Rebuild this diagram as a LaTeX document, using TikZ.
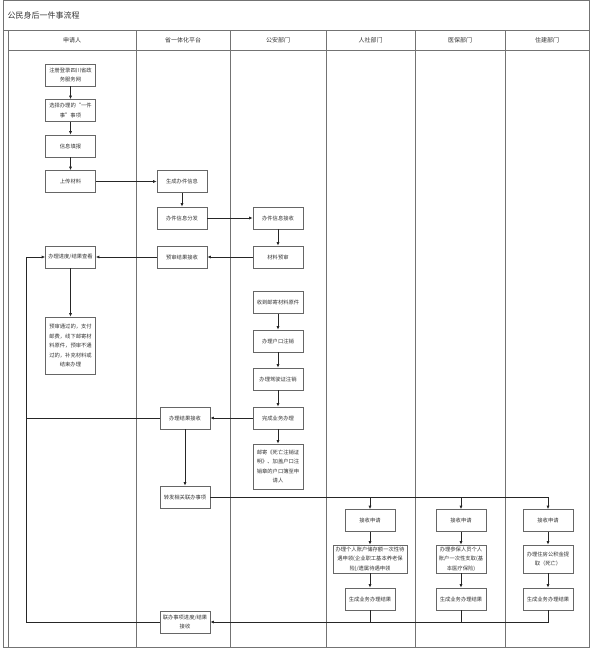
\documentclass[tikz,border=0pt]{standalone}
\usepackage{fontspec}
\setmainfont{Noto Sans CJK SC}
\usetikzlibrary{arrows.meta}

\tikzset{
	box/.style={draw=black!60, line width=0.6pt, fill=white, text=black!80, minimum width=50pt, minimum height=22pt, inner sep=1pt, align=center, font=\fontsize{5.3}{9.5}\selectfont},
	head/.style={text=black!80, font=\fontsize{6}{6}\selectfont},
	flow/.style={draw=black!85, line width=0.7pt},
	lane/.style={draw=black!55, line width=0.7pt}
}

\begin{document}
\begin{tikzpicture}[x=1pt, y=-1pt, >={Latex[length=3.5pt,width=3pt]}]
	\useasboundingbox (0,0) rectangle (590,648);
	\draw[lane] (3,0) rectangle (589,647);
	\draw[lane] (3,30) -- (589,30);
	\draw[lane] (8,30) -- (8,647);
	\draw[lane] (8,50) -- (589,50);
	\foreach \x in {136,230,326,415,505} \draw[lane] (\x,30) -- (\x,647);
	\node[anchor=west, text=black!80, font=\fontsize{8}{8}\selectfont] (title) at (4,15) {公民身后一件事流程};
	\foreach \x/\t/\n in {72/申请人/app, 183/省一体化平台/plat, 278/公安部门/ga, 370.5/人社部门/rs, 460/医保部门/yb, 547/住建部门/zj}
		\node[head] (h\n) at (\x,40) {\t};

	\node[box] (reg) at (70.5,75) {注册登录四川省政\\务服务网};
	\node[box] (pick) at (70.5,110.5) {选择办理的“一件\\事”事项};
	\node[box] (fill) at (70.5,146) {信息填报};
	\node[box] (upload) at (70.5,181.5) {上传材料};
	\node[box] (status) at (70.5,257) {办理进度/结果查看};
	\node[box, minimum height=57pt] (notice) at (70.5,345.5) {预审通过的，支付\\邮费，线下邮寄材\\料原件，预审不通\\过的，补充材料或\\结束办理};

	\node[box] (gen) at (182,181.5) {生成办件信息};
	\node[box] (dist) at (182,218) {办件信息分发};
	\node[box] (prerecv) at (182,257) {预审结果接收};
	\node[box] (resrecv) at (185,418) {办理结果接收};
	\node[box] (fwd) at (185,497) {转发相关联办事项};
	\node[box] (jointrecv) at (185,622) {联办事项进度/结果\\接收};

	\node[box] (gaIn) at (278,218) {办件信息接收};
	\node[box] (gaCheck) at (278,257) {材料预审};
	\node[box] (gaMail) at (278,302.5) {收到邮寄材料原件};
	\node[box] (gaHukou) at (278,341) {办理户口注销};
	\node[box] (gaDriver) at (278,379) {办理驾驶证注销};
	\node[box] (gaDone) at (278,418) {完成业务办理};
	\node[box, minimum height=45pt] (gaSend) at (278,466.5) {邮寄《死亡注销证\\明》、加盖户口注\\销章的户口簿至申\\请人};

	\node[box] (rsIn) at (370,520.5) {接收申请};
	\node[box, minimum width=74pt, minimum height=28pt] (rsDo) at (370,559) {办理个人账户储存额一次性待\\遇申领(企业职工基本养老保\\险)/遗属待遇申领};
	\node[box] (rsOut) at (370,599) {生成业务办理结果};
	\node[box] (ybIn) at (461,520.5) {接收申请};
	\node[box, minimum height=28pt] (ybDo) at (461,559) {办理参保人员个人\\账户一次性支取(基\\本医疗保险)};
	\node[box] (ybOut) at (461,599) {生成业务办理结果};
	\node[box] (zjIn) at (548,520.5) {接收申请};
	\node[box, minimum height=28pt] (zjDo) at (548,559) {办理住房公积金提\\取（死亡）};
	\node[box] (zjOut) at (548,599) {生成业务办理结果};

	\draw[flow,->] (reg) -- (pick);
	\draw[flow,->] (pick) -- (fill);
	\draw[flow,->] (fill) -- (upload);
	\draw[flow,->] (upload) -- (gen);
	\draw[flow,->] (gen) -- (dist);
	\draw[flow,->] (dist) -- (gaIn);
	\draw[flow,->] (gaIn) -- (gaCheck);
	\draw[flow,->] (gaCheck) -- (prerecv);
	\draw[flow,->] (prerecv) -- (status);
	\draw[flow,->] (status) -- (notice);
	\draw[flow,->] (gaMail) -- (gaHukou);
	\draw[flow,->] (gaHukou) -- (gaDriver);
	\draw[flow,->] (gaDriver) -- (gaDone);
	\draw[flow,->] (gaDone) -- (gaSend);
	\draw[flow,->] (gaDone) -- (resrecv);
	\draw[flow,->] (resrecv) -- (fwd);

	\coordinate (backB) at (26,622);
	\draw[flow,->] (jointrecv.west) -- (backB) |- (status.west);
	\draw[flow] (resrecv.west) -- (resrecv.west -| backB);

	\coordinate (fwdE) at (548,497);
	\draw[flow,->] (fwd.east) -- (fwdE) -- (zjIn.north);
	\draw[flow,->] (rsIn.north |- fwdE) -- (rsIn.north);
	\draw[flow,->] (ybIn.north |- fwdE) -- (ybIn.north);

	\foreach \d in {rs,yb,zj} {
		\draw[flow,->] (\d In) -- (\d Do);
		\draw[flow,->] (\d Do) -- (\d Out);
	}
	\draw[flow,->] (zjOut.south) |- (jointrecv.east);
	\draw[flow] (rsOut.south) -- (rsOut.south |- jointrecv.east);
	\draw[flow] (ybOut.south) -- (ybOut.south |- jointrecv.east);
\end{tikzpicture}
\end{document}
